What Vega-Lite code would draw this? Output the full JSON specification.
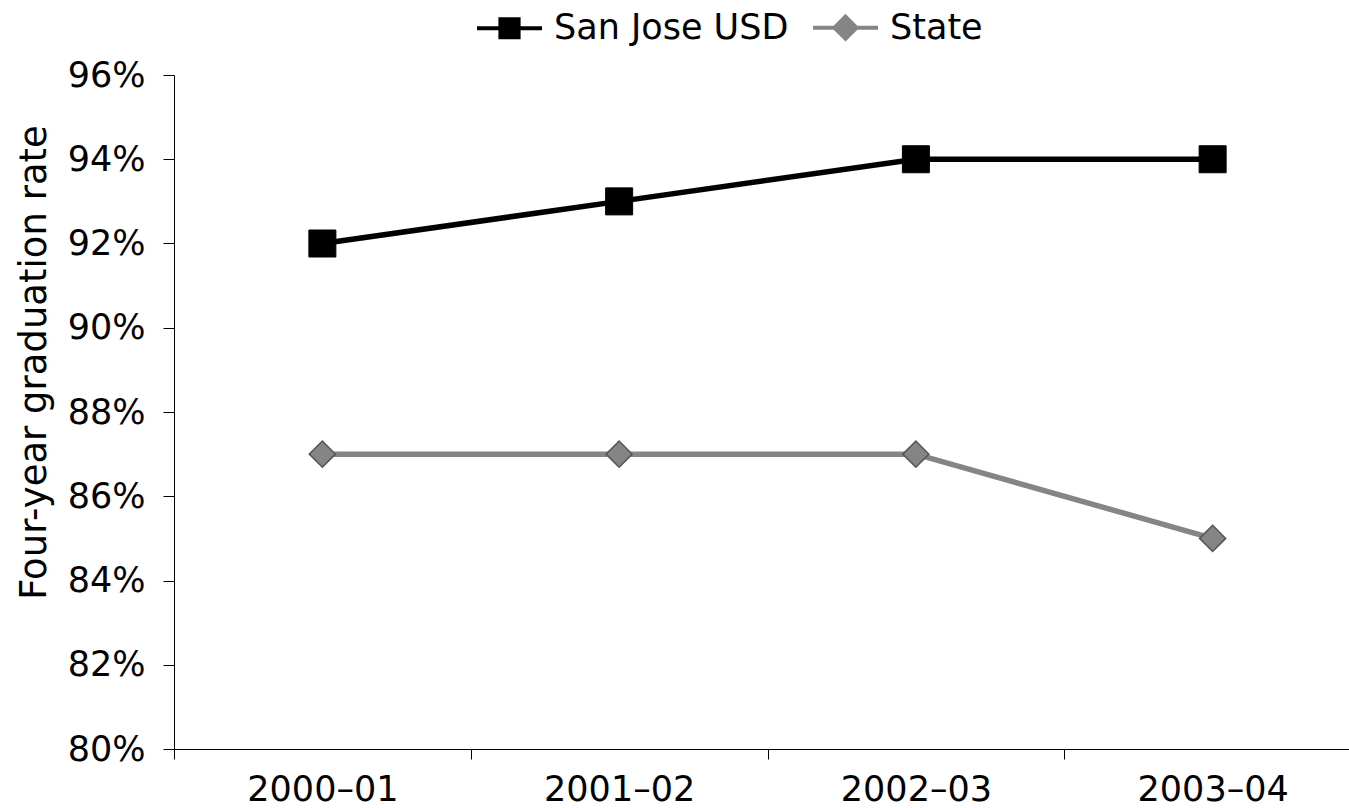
{
  "$schema": "https://vega.github.io/schema/vega-lite/v6.json",
  "autosize": "none",
  "width": 1187,
  "height": 674,
  "padding": {"left": 174, "top": 75, "right": 0, "bottom": 59},
  "background": "#ffffff",
  "config": {
    "view": {"stroke": null},
    "font": "DejaVu Sans",
    "axis": {"grid": false, "domainColor": "#000000", "tickColor": "#000000", "labelColor": "#000000", "titleColor": "#000000", "labelFont": "DejaVu Sans", "titleFont": "DejaVu Sans"}
  },
  "data": {
    "values": [
      {"year": "2000–01", "series": "San Jose USD", "rate": 0.92},
      {"year": "2001–02", "series": "San Jose USD", "rate": 0.93},
      {"year": "2002–03", "series": "San Jose USD", "rate": 0.94},
      {"year": "2003–04", "series": "San Jose USD", "rate": 0.94},
      {"year": "2000–01", "series": "State", "rate": 0.87},
      {"year": "2001–02", "series": "State", "rate": 0.87},
      {"year": "2002–03", "series": "State", "rate": 0.87},
      {"year": "2003–04", "series": "State", "rate": 0.85}
    ]
  },
  "encoding": {
    "x": {
      "field": "year",
      "type": "nominal",
      "sort": null,
      "scale": {"paddingInner": 0, "paddingOuter": 0},
      "axis": {
        "title": null,
        "labelAngle": 0,
        "labelFontSize": 35,
        "tickBand": "extent",
        "tickSize": 10,
        "labelPadding": 13,
        "domainWidth": 1
      }
    },
    "y": {
      "field": "rate",
      "type": "quantitative",
      "scale": {"domain": [0.8, 0.96], "nice": false, "zero": false},
      "axis": {
        "title": "Four-year graduation rate",
        "values": [0.8, 0.82, 0.84, 0.86, 0.88, 0.9, 0.92, 0.94, 0.96],
        "format": ".0%",
        "labelFontSize": 35,
        "tickSize": 11,
        "labelPadding": 18,
        "titleFontSize": 37,
        "titleFontWeight": "normal",
        "titleAngle": 270,
        "titleBaseline": "alphabetic",
        "titleX": -129,
        "titleY": 287
      }
    },
    "color": {
      "field": "series",
      "type": "nominal",
      "scale": {"domain": ["San Jose USD", "State"], "range": ["#000000", "#858585"]},
      "legend": {
        "title": null,
        "orient": "none",
        "direction": "horizontal",
        "legendX": 301,
        "legendY": -82,
        "padding": 0,
        "labelFont": "DejaVu Sans",
        "labelFontSize": 35,
        "labelColor": "#000000",
        "labelLimit": 500,
        "labelOffset": 10,
        "columnPadding": 16,
        "symbolSize": 4225,
        "symbolStrokeWidth": 4,
        "symbolType": "M-1,0H1M-0.28,-0.28H0.28V0.28H-0.28Z",
        "encode": {
          "symbols": {
            "update": {
              "shape": {"signal": "datum.value === 'State' ? 'M-1,0H1M0,-0.34L0.34,0L0,0.34L-0.34,0Z' : 'M-1,0H1M-0.28,-0.28H0.28V0.28H-0.28Z'"},
              "fill": {"signal": "datum.value === 'State' ? '#7a7a7a' : '#000000'"},
              "stroke": {"signal": "datum.value === 'State' ? '#858585' : '#000000'"},
              "strokeWidth": {"value": 4},
              "opacity": {"value": 1},
              "fillOpacity": {"value": 1}
            }
          }
        }
      }
    }
  },
  "layer": [
    {
      "mark": {"type": "line", "strokeWidth": 5.5}
    },
    {
      "transform": [{"filter": "datum.series === 'San Jose USD'"}],
      "mark": {"type": "point", "shape": "square", "filled": true, "opacity": 1, "size": 729, "stroke": "#000000", "strokeWidth": 1}
    },
    {
      "transform": [{"filter": "datum.series === 'State'"}],
      "mark": {"type": "point", "shape": "diamond", "filled": true, "opacity": 1, "size": 680, "stroke": "#555555", "strokeWidth": 1.5}
    }
  ]
}
